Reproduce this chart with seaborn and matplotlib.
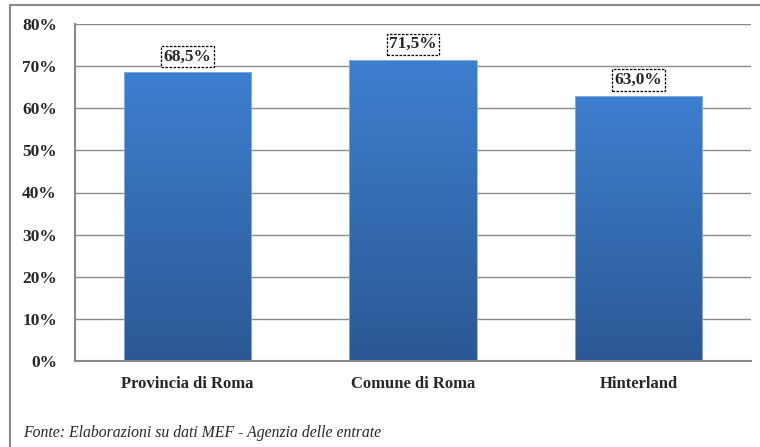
import numpy as np
import matplotlib
matplotlib.use("Agg")
import matplotlib.pyplot as plt
import seaborn as sns
from matplotlib.lines import Line2D
from matplotlib.colors import LinearSegmentedColormap

sns.set_style("white")
plt.rcParams['font.family'] = ['Liberation Serif', 'DejaVu Serif']

# data
categories = ["Provincia di Roma", "Comune di Roma", "Hinterland"]
values = [68.5, 71.5, 63.0]
yticks = [0, 10, 20, 30, 40, 50, 60, 70, 80]
source = "Fonte: Elaborazioni su dati MEF - Agenzia delle entrate"

grey = "#8a8a8a"

fig = plt.figure(figsize=(7.6, 4.47), dpi=100)
ax = fig.add_axes([75 / 760, 1 - 361 / 447, 676 / 760, 337 / 447])

sns.barplot(x=categories, y=values, ax=ax, width=0.565, color="#3d7ccc",
            saturation=1, zorder=3)

ax.set_ylim(0, 80)
ax.set_xlim(-0.5, 2.5)
ax.set_yticks(yticks)
ax.set_yticklabels([f"{t}%" for t in yticks], fontweight="bold", fontsize=12.5)
ax.set_xticks(range(len(categories)))
ax.set_xticklabels(categories, fontweight="bold", fontsize=12)
ax.set_xticks([0.5, 1.5, 2.5], minor=True)
ax.tick_params(axis="x", which="major", length=0, pad=11)
ax.tick_params(axis="x", which="minor", length=4, color=grey, width=1, direction="out")
ax.tick_params(axis="y", length=5, color=grey, width=1, direction="out", pad=8)
ax.set_xlabel("")
ax.set_ylabel("")

ax.yaxis.grid(True, color=grey, lw=1, zorder=0)
ax.set_axisbelow(True)
for s in ["top", "right"]:
    ax.spines[s].set_visible(False)
for s in ["left", "bottom"]:
    ax.spines[s].set_color(grey)
    ax.spines[s].set_linewidth(1.5)
    ax.spines[s].set_zorder(5)

# gradient fill on bars
cmap = LinearSegmentedColormap.from_list("bar", ["#2b5894", "#3e7fd0"])
grad = np.linspace(0, 1, 256).reshape(-1, 1)
for p in ax.patches:
    x0, y0 = p.get_x(), p.get_y()
    w, h = p.get_width(), p.get_height()
    p.set_facecolor("none")
    p.set_edgecolor("#8fb4e3")
    p.set_linewidth(0.6)
    im = ax.imshow(grad, cmap=cmap, aspect="auto", origin="lower",
                   extent=[x0, x0 + w, y0, y0 + h], zorder=2)
    im.set_clip_path(p)

ax.set_xlim(-0.5, 2.5)
ax.set_ylim(0, 80)

# value labels
for i, v in enumerate(values):
    ax.annotate(f"{v:.1f}".replace(".", ",") + "%", (i, v), xytext=(0, 5.5),
                textcoords="offset points", ha="center", va="bottom",
                fontweight="bold", fontsize=12.5, zorder=6,
                bbox=dict(boxstyle="square,pad=0.15", fc="white", ec="black",
                          ls=(0, (2, 1.2)), lw=0.9))

# frame (top and left edges)
fig.add_artist(Line2D([9.5 / 760, 1], [1 - 4.5 / 447] * 2, color=grey, lw=1.5,
                      transform=fig.transFigure))
fig.add_artist(Line2D([9.5 / 760] * 2, [0, 1 - 4.5 / 447], color=grey, lw=1.5,
                      transform=fig.transFigure))

fig.text(23 / 760, 1 - 433 / 447, source, style="italic", fontsize=11.3,
         va="center", ha="left")

fig.savefig("out.png", dpi=100)
